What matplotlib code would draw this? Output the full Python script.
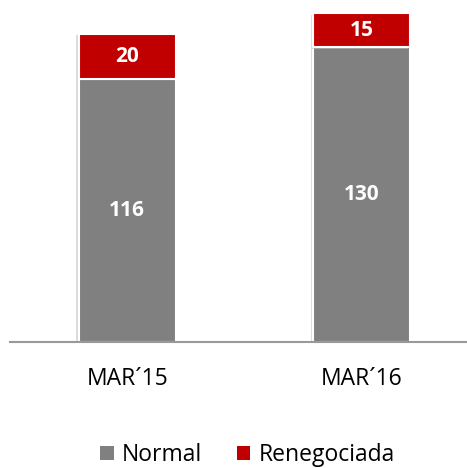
import matplotlib.pyplot as plt
import matplotlib.patheffects as pe
import matplotlib.patches as mpatches

categories = ['MAR´15', 'MAR´16']
normal = [116, 130]
renegociada = [20, 15]
series_names = ['Normal', 'Renegociada']
colors = ['#808080', '#C00000']

plt.rcParams['font.family'] = ['Open Sans', 'DejaVu Sans']

fig = plt.figure(figsize=(4.67, 4.68), dpi=100)
ax = fig.add_axes([10 / 467, 1 - 342 / 468, 1 - 10 / 467, 340 / 468])

shadow = [pe.SimplePatchShadow(offset=(-1.5, -1), shadow_rgbFace='#bbbbbb', alpha=0.5),
          pe.Normal()]

x = range(len(categories))
width = 0.415
b1 = ax.bar(x, normal, width, color=colors[0], edgecolor='white', linewidth=1.5)
b2 = ax.bar(x, renegociada, width, bottom=normal, color=colors[1],
            edgecolor='white', linewidth=1.5)
for p in list(b1) + list(b2):
    p.set_path_effects(shadow)

for i in x:
    ax.text(i, normal[i] / 2, str(normal[i]), ha='center', va='center',
            color='white', fontsize=15, fontweight='bold')
    ax.text(i, normal[i] + renegociada[i] / 2, str(renegociada[i]), ha='center',
            va='center', color='white', fontsize=15, fontweight='bold')

ax.set_xlim(-0.5, 1.45)
ax.set_ylim(0, 150)
ax.set_xticks(list(x))
ax.set_xticklabels(categories, fontsize=16.5)
ax.tick_params(axis='x', length=0, pad=18)
ax.set_yticks([])
for s in ['top', 'right', 'left']:
    ax.spines[s].set_visible(False)
ax.spines['bottom'].set_color('#999999')
ax.spines['bottom'].set_linewidth(1.5)

handles = [mpatches.Patch(facecolor=c, edgecolor='none', label=n)
           for c, n in zip(colors, series_names)]
fig.legend(handles=handles, loc='center', bbox_to_anchor=(0.53, 1 - 455 / 468),
           ncol=2, frameon=False, fontsize=16.5, handlelength=0.6, handleheight=0.6,
           handletextpad=0.35, columnspacing=1.5, borderpad=0)

fig.savefig('out.png', dpi=100)
